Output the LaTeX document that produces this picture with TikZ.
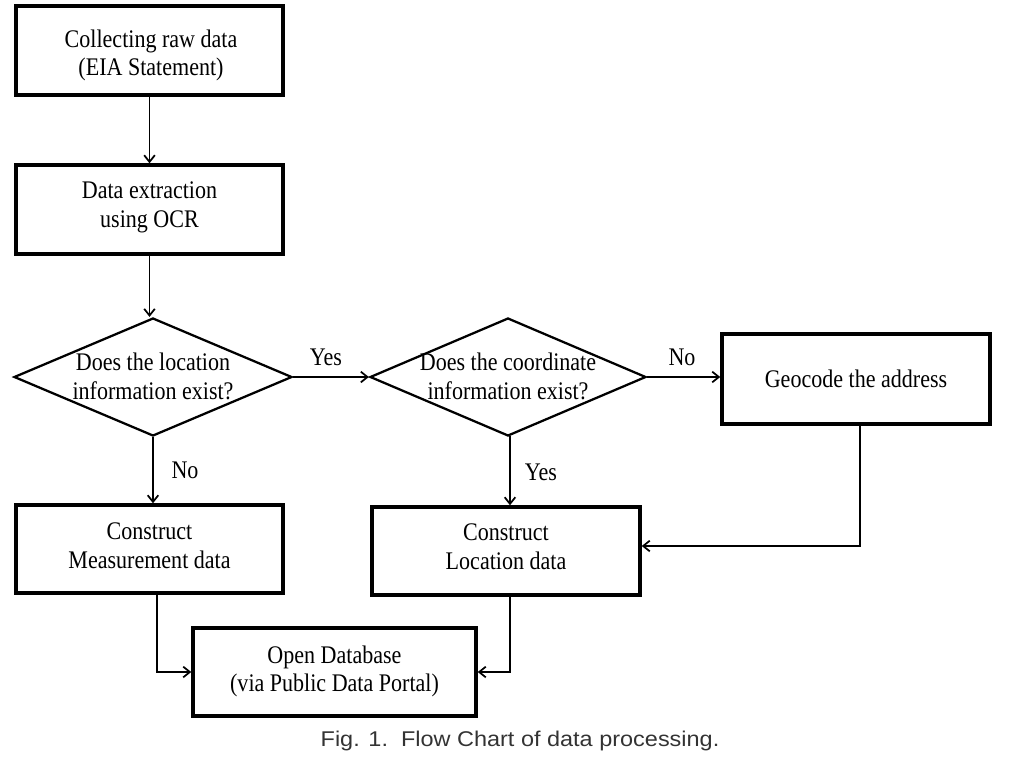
\documentclass[tikz,border=0pt]{standalone}
\usepackage{fontspec}
\setmainfont{Liberation Serif}[FakeStretch=0.87]
\newfontfamily\capfont{Liberation Sans}[FakeStretch=1.1]
\usetikzlibrary{shapes.geometric,arrows.meta,calc}
\begin{document}
\begin{tikzpicture}[x=0.75pt,y=-0.75pt,
  txt/.style={font=\fontsize{19}{21.5}\selectfont,align=center},
  procbox/.style={draw,line width=2.6pt,rectangle,minimum width=#1*0.75pt,inner sep=0pt},
  dia/.style={draw,line width=1.7pt,diamond,inner sep=0pt,minimum width=278*0.75pt,minimum height=118*0.75pt},
  conn/.style={line width=1.3pt,-{Straight Barb[length=5pt,width=8pt,line width=1.3pt]}},
  lbl/.style={font=\fontsize{19}{20.5}\selectfont}]
\useasboundingbox (0,0) rectangle (1020,761);
\node[procbox=267,minimum height=89*0.75pt] (b1) at (149.5,50.5) {};
\node[txt] (b1t) at (151,55.5) {Collecting raw data\\(EIA Statement)};
\node[procbox=267,minimum height=89*0.75pt] (b2) at (149.5,209.5) {};
\node[txt] (b2t) at (149.5,207.5) {Data extraction\\using OCR};
\node[dia] (d1) at (153,377) {};
\node[txt] (d1t) at (153,376.5) {Does the location\\information exist?};
\node[dia,minimum width=276*0.75pt] (d2) at (508,377) {};
\node[txt] (d2t) at (508,376.5) {Does the coordinate\\information exist?};
\node[procbox=268,minimum height=90*0.75pt] (geo) at (856,379) {};
\node[txt] (geot) at (856,379) {Geocode the address};
\node[procbox=267,minimum height=88*0.75pt] (meas) at (149.5,549) {};
\node[txt] (meast) at (149.5,545.5) {Construct\\Measurement data};
\node[procbox=268,minimum height=88*0.75pt] (loc) at (506,551) {};
\node[txt] (loct) at (506,546.5) {Construct\\Location data};
\node[procbox=283,minimum height=88*0.75pt] (db) at (334.5,672) {};
\node[txt] (dbt) at (334.5,671.5) {Open Database\\(via Public Data Portal)};
\coordinate (gs) at (860,424);
\coordinate (ms) at (157,593);
\coordinate (ls) at (510,595);
\coordinate (d2s) at (510,436);
\draw[conn] (b1.south) -- (b2.north);
\draw[conn] (b2.south) -- (b2.south |- d1.north);
\draw[conn] (d1.east) -- (d2.west);
\draw[conn] (d2.east) -- (d2.east -| geo.west);
\draw[conn] (d1.south) -- (d1.south |- meas.north);
\draw[conn] (d2s) -- (d2s |- loc.north);
\draw[conn] (gs) -- (860,546) -- (loc.east |- 0,546);
\draw[conn] (ms) |- (db.west);
\draw[conn] (ls) |- (db.east);
\node[lbl] (yes1) at (326,357) {Yes};
\node[lbl] (no1) at (682,357) {No};
\node[lbl] (no2) at (185,470) {No};
\node[lbl] (yes2) at (541,472) {Yes};
\node[font=\capfont\fontsize{16}{18}\selectfont,text=black!80] (cap) at (520,741) {Fig. 1.\ \ Flow Chart of data processing.};
\end{tikzpicture}
\end{document}
